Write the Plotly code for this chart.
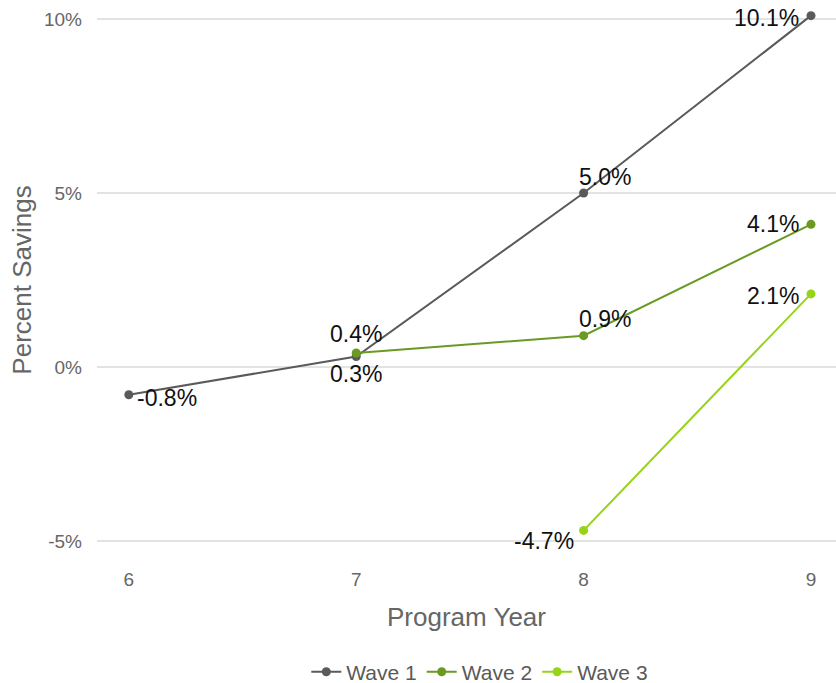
import plotly.graph_objects as go

# Program years and percent savings per wave
years_w1 = [6, 7, 8, 9]
savings_w1 = [-0.8, 0.3, 5.0, 10.1]
years_w2 = [7, 8, 9]
savings_w2 = [0.4, 0.9, 4.1]
years_w3 = [8, 9]
savings_w3 = [-4.7, 2.1]

y_ticks = [-5, 0, 5, 10]
y_tick_labels = ["-5%", "0%", "5%", "10%"]
x_ticks = [6, 7, 8, 9]

wave_names = ["Wave 1", "Wave 2", "Wave 3"]
wave_colors = ["#5a5a5a", "#6a9a22", "#96d418"]

FONT = "Liberation Sans, Arial, sans-serif"

fig = go.Figure()
series = [(years_w1, savings_w1), (years_w2, savings_w2), (years_w3, savings_w3)]
for (xs, ys), name, color in zip(series, wave_names, wave_colors):
    fig.add_trace(go.Scatter(
        x=xs, y=ys, name=name, mode="lines+markers",
        line=dict(color=color, width=2),
        marker=dict(color=color, size=9),
        cliponaxis=False,
    ))

# Per-point label placement: (xanchor, yanchor, xshift, yshift)
label_places = [
    [("left", "middle", 6, -3), ("center", "top", 0, -2), ("left", "bottom", -7, 1), ("right", "middle", -10, -2)],
    [("center", "bottom", 0, 4), ("left", "bottom", -7, 2), ("right", "middle", -10, 0)],
    [("right", "middle", -8, -11), ("right", "middle", -10, -2)],
]
for (xs, ys), places in zip(series, label_places):
    for xv, yv, (xa, ya, dx, dy) in zip(xs, ys, places):
        fig.add_annotation(
            x=xv, y=yv, xref="x", yref="y", text=f"{yv:.1f}%",
            showarrow=False, xanchor=xa, yanchor=ya, xshift=dx, yshift=dy,
            font=dict(family=FONT, size=23, color="#111111"),
        )

fig.update_layout(
    width=836, height=683,
    margin=dict(l=97, r=0, t=0, b=123),
    paper_bgcolor="white", plot_bgcolor="white",
    font=dict(family=FONT, color="#666666"),
    showlegend=True,
    legend=dict(
        orientation="h", x=0.518, xanchor="center",
        yref="container", y=0.016, yanchor="middle",
        font=dict(family=FONT, size=21, color="#595959"),
        itemwidth=30, tracegroupgap=0,
    ),
    xaxis=dict(
        range=[5.86, 9.11], tickmode="array", tickvals=x_ticks,
        showgrid=False, zeroline=False, showline=False,
        ticks="", ticklabelstandoff=6,
        tickfont=dict(family=FONT, size=19, color="#666666"),
        title=dict(text="Program Year", font=dict(family=FONT, size=26, color="#666666"), standoff=18),
    ),
    yaxis=dict(
        range=[-5.55, 10.55], tickmode="array", tickvals=y_ticks, ticktext=y_tick_labels,
        showgrid=True, gridcolor="#e3e3e3", gridwidth=2,
        zeroline=False, showline=False, ticks="", ticklabelstandoff=14,
        tickfont=dict(family=FONT, size=19, color="#666666"),
        title=dict(text="Percent Savings", font=dict(family=FONT, size=26, color="#666666"), standoff=4),
    ),
)

fig.write_html("out.html")
